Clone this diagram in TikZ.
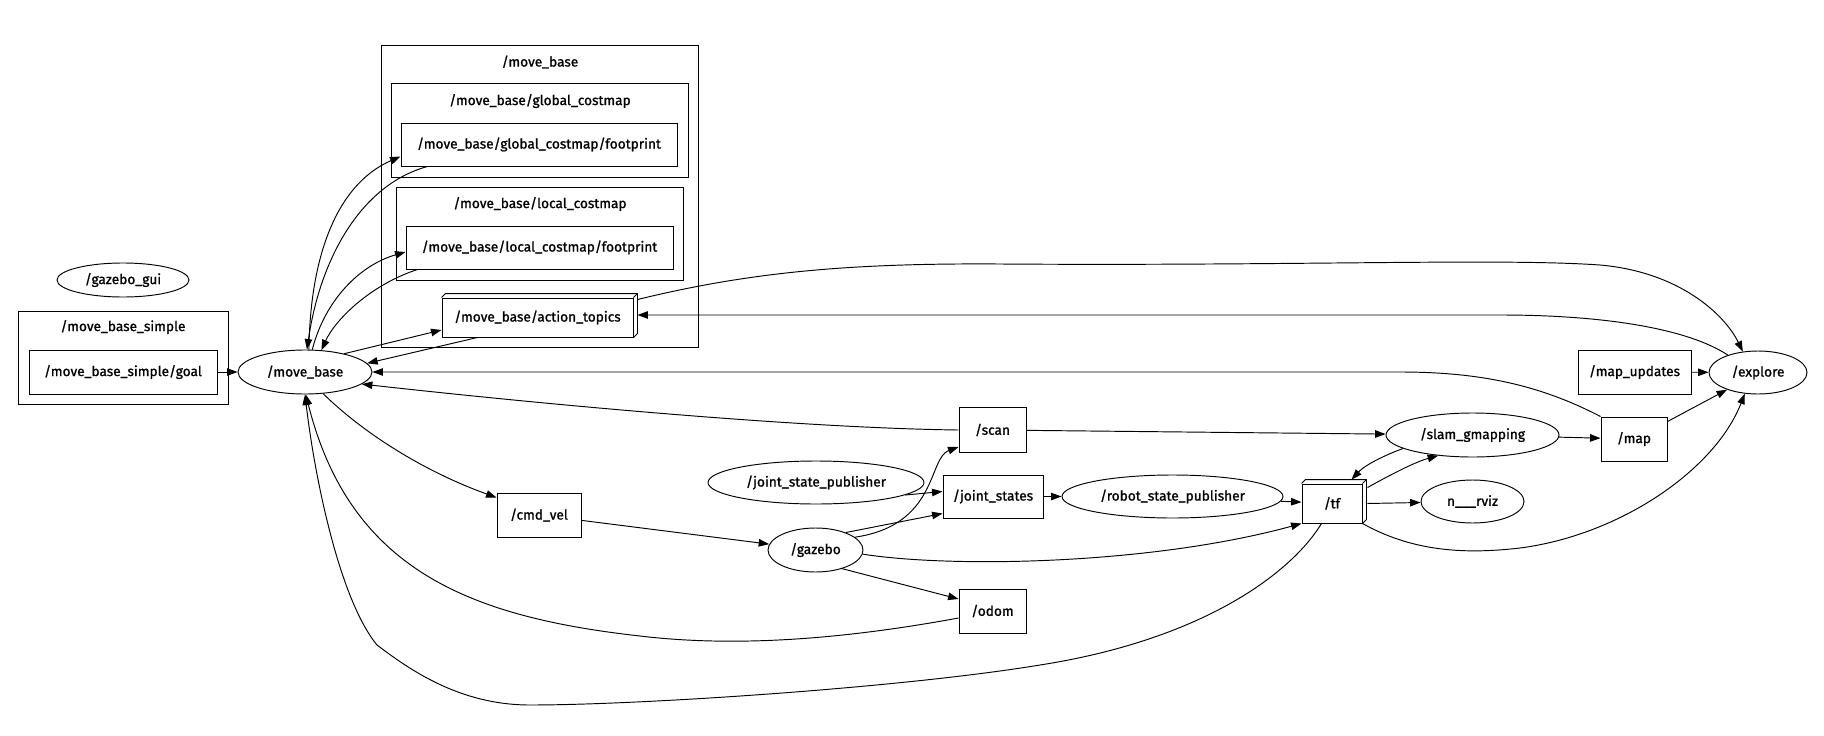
\documentclass[tikz,border=0pt]{standalone}
\usepackage{fontspec}
\setmainfont{Fira Sans}
\newfontfamily\graphfont{Fira Sans}[FakeBold=1.1]
\usetikzlibrary{arrows.meta,shapes.geometric}
\begin{document}
\begin{tikzpicture}[x=1pt,y=-1pt,
  font=\graphfont\fontsize{13.7}{16}\selectfont,
  line width=0.95pt,
  topic/.style={draw, rectangle, inner sep=0pt, minimum height=44pt},
  nodeell/.style={draw, ellipse, inner sep=0pt, minimum height=44pt},
  cluster/.style={draw, line width=0.95pt},
  arr/.style={-{Triangle[length=10.5pt,width=7.5pt]}},
  lbl/.style={inner sep=0pt}]
\useasboundingbox (0,0) rectangle (1824,736);

% clusters
\draw[cluster] (18,311) rectangle (228,404);
\node[lbl] (lmbs) at (123,327) {/move\_base\_simple};
\draw[cluster] (381,45) rectangle (698,347);
\node[lbl] (lmb) at (540,62) {/move\_base};
\draw[cluster] (391,83) rectangle (688,177);
\node[lbl] (lgc) at (540,101) {/move\_base/global\_costmap};
\draw[cluster] (396,187) rectangle (683,280);
\node[lbl] (llc) at (540,204) {/move\_base/local\_costmap};

% nodes
\node[nodeell, minimum width=132pt, minimum height=34pt] (gg) at (123,280) {/gazebo\_gui};
\node[topic, minimum width=188pt] (goal) at (123,372) {/move\_base\_simple/goal};
\node[nodeell, minimum width=134pt] (mb) at (305,372) {/move\_base};
\node[topic, minimum width=276pt, minimum height=43pt] (gf) at (539,144.5) {/move\_base/global\_costmap/footprint};
\node[topic, minimum width=267pt, minimum height=43pt] (lf) at (539.5,247.5) {/move\_base/local\_costmap/footprint};
\node[topic, minimum width=191pt, minimum height=39pt] (at) at (537.5,317.5) {/move\_base/action\_topics};
\node[topic, minimum width=84pt] (cmd) at (539,515) {/cmd\_vel};
\node[topic, minimum width=67pt, minimum height=45pt] (scan) at (992.5,430) {/scan};
\node[nodeell, minimum width=216pt, minimum height=43pt] (jsp) at (816,482.5) {/joint\_state\_publisher};
\node[topic, minimum width=100pt, minimum height=43pt] (js) at (993,496.5) {/joint\_states};
\node[nodeell, minimum width=95pt] (gz) at (815.5,550) {/gazebo};
\node[topic, minimum width=67pt] (odom) at (992.5,611) {/odom};
\node[nodeell, minimum width=221pt, minimum height=43pt] (rsp) at (1172.5,496.5) {/robot\_state\_publisher};
\node[topic, minimum width=60pt, minimum height=39pt] (tf) at (1332,503.5) {/tf};
\node[nodeell, minimum width=173pt] (slam) at (1472.5,435) {/slam\_gmapping};
\node[nodeell, minimum width=103pt, minimum height=43pt] (rviz) at (1472.5,501.5) {n\_\_\_rviz};
\node[topic, minimum width=66pt] (map) at (1634,439) {/map};
\node[topic, minimum width=113pt] (mu) at (1634.5,372) {/map\_updates};
\node[nodeell, minimum width=98pt, minimum height=43pt] (ex) at (1758,372.5) {/explore};

% 3d faces
\draw (at.north west) -- ++(4pt,4pt) -- ([shift={(4pt,4pt)}]at.north east) -- ([shift={(4pt,4pt)}]at.south east) -- (at.south east);
\draw (at.north east) -- ++(4pt,4pt);
\draw (tf.north west) -- ++(4pt,4pt) -- ([shift={(4pt,4pt)}]tf.north east) -- ([shift={(4pt,4pt)}]tf.south east) -- (tf.south east);
\draw (tf.north east) -- ++(4pt,4pt);

% edges
\draw[arr] (goal) -- (mb);
\draw[arr] (mb.80) .. controls (310,260) and (335,185) .. ([yshift=-12pt]gf.west);
\draw[arr] ([xshift=27pt]gf.south west) .. controls (360,185) and (320,260) .. (mb.85);
\draw[arr] (mb.72) .. controls (325,300) and (360,265) .. ([yshift=-4.5pt]lf.west);
\draw[arr] ([xshift=12pt]lf.south west) .. controls (370,285) and (335,320) .. (mb.53);
\draw[arr] (mb.25) -- ([yshift=-12.5pt]at.west);
\draw[arr] ([xshift=36pt]at.south west) -- (mb.8);
\draw[arr] ([xshift=4pt,yshift=-2pt]at.north east) .. controls (750,272) and (850,263) .. (1000,264)
   .. controls (1300,266) and (1500,258) .. (1600,265)
   .. controls (1680,272) and (1725,315) .. (ex.126);
\draw[arr] (ex.150) .. controls (1690,330) and (1610,315) .. (1500,315) -- ([xshift=4pt,yshift=2.5pt]at.east);
\draw[arr] (map.north west) .. controls (1540,385) and (1480,372) .. (1400,372) -- (mb.0);
\draw[arr] (scan.west) .. controls (800,428) and (550,405) .. (mb.-12);
\draw[arr] (mb.-50) .. controls (360,430) and (420,470) .. ([yshift=-5pt]cmd.north west);
\draw[arr] (cmd) -- (gz);
\draw[arr] (gz.18) .. controls (938,525) and (928,458) .. ([yshift=-17pt]scan.west);
\draw[arr] (gz.30) -- ([yshift=-17pt]js.west);
\draw[arr] (jsp.-8) -- ([yshift=5pt]js.west);
\draw[arr] (gz.-35) -- ([yshift=12pt]odom.west);
\draw[arr] (gz.-5) .. controls (950,568) and (1150,565) .. (tf.south west);
\draw[arr] (js) -- (rsp);
\draw[arr] (rsp) -- (tf);
\draw[arr] ([yshift=-7pt]odom.west) .. controls (850,638) and (740,648) .. (640,636)
   .. controls (470,617) and (350,570) .. (mb.-88);
\draw[arr] ([xshift=20pt]tf.south west) .. controls (1290,575) and (1200,640) .. (1040,665)
   .. controls (900,688) and (640,705) .. (530,705)
   .. controls (460,705) and (410,670) .. (377,645)
   .. controls (340,600) and (315,480) .. (mb.-90);
\draw[arr] ([xshift=5pt,yshift=-4pt]tf.north east) .. controls (1390,475) and (1415,462) .. (slam.-149);
\draw[arr] (slam.-169) .. controls (1385,455) and (1365,465) .. ([xshift=50pt,yshift=4pt]tf.north west);
\draw[arr] ([xshift=5pt]tf.east) -- (rviz);
\draw[arr] (tf.south east) .. controls (1410,550) and (1460,555) .. (1520,548)
   .. controls (1620,535) and (1715,470) .. (ex.-122);
\draw[arr] (scan) -- (slam);
\draw[arr] (slam) -- (map);
\draw[arr] ([yshift=-5pt]map.north east) -- (ex.-151);
\draw[arr] (mu) -- (ex);
\end{tikzpicture}
\end{document}
